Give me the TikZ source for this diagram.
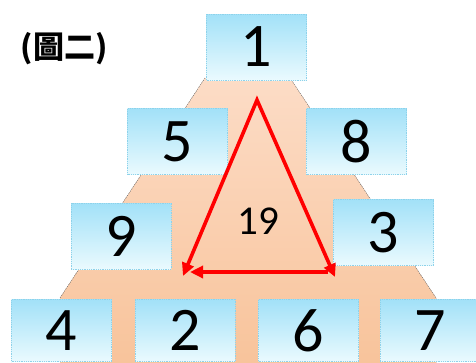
\documentclass[tikz,border=0pt]{standalone}
\usepackage{fontspec}
\setmainfont{Carlito}
\newfontfamily\cjkfont{Noto Sans CJK TC}
\usetikzlibrary{arrows.meta,positioning}
\definecolor{boxtop}{HTML}{A2E1F8}
\definecolor{boxbottom}{HTML}{EAFAFE}
\definecolor{boxedge}{HTML}{8ED2EA}
\definecolor{peachtop}{HTML}{FCDCC6}
\definecolor{peachbottom}{HTML}{F8C39A}
\definecolor{arrowred}{HTML}{FF0000}

\begin{document}
\begin{tikzpicture}[x=1pt,y=-1pt,
  numbox/.style={draw=boxedge,densely dotted,line width=0.8pt,top color=boxtop,bottom color=boxbottom,
    minimum width=100pt,minimum height=66pt,inner sep=0pt,font=\fontsize{62}{62}\selectfont},
  lowbox/.style={numbox,minimum height=62pt},
  redline/.style={draw=arrowred,line width=3.6pt,line join=miter},
  redtip/.tip={Triangle[length=13pt,width=12pt]}]
  \useasboundingbox (0,0) rectangle (476,362);
  \clip (0,0) rectangle (476,362);

  % peach pyramid behind the boxes
  \fill[top color=peachtop,bottom color=peachbottom] (205,78) -- (290,78) -- (436,298) -- (436,370) -- (60,370) -- (60,298) -- cycle;
  \draw[black!55,dotted,line width=0.6pt] (205,78) -- (60,298);
  \draw[black!55,dotted,line width=0.6pt] (290,78) -- (436,298);

  \node[font=\cjkfont\bfseries\fontsize{31}{31}\selectfont] (title) at (64,49) {(圖二)};

  % rows of numbers
  \node[numbox] (n1) at (256.5,47) {1};
  \node[numbox] (n5) at (177.5,141.5) {5};
  \node[numbox] (n8) at (356.5,141.5) {8};
  \node[numbox] (n9) at (121,236) {9};
  \node[numbox] (n3) at (383.5,232.5) {3};
  \node[lowbox] (n4) at (61.5,330.5) {4};
  \node[lowbox] (n2) at (185,330.5) {2};
  \node[lowbox] (n6) at (308.5,330.5) {6};
  \node[lowbox] (n7) at (430,330.5) {7};

  % triangle of arrows
  \coordinate (apex) at (257,100);
  \coordinate (lower left) at (183,276);
  \coordinate (lower right) at (335,277);
  \coordinate (hstart) at (328,272);
  \coordinate (hend) at (190,272);
  \draw[redline,redtip-redtip] (lower left) -- (apex) -- (lower right);
  \draw[redline,-redtip] (hstart) -- (hend);
  \node[font=\fontsize{41}{41}\selectfont] (sum) at (258,221) {19};
\end{tikzpicture}
\end{document}
